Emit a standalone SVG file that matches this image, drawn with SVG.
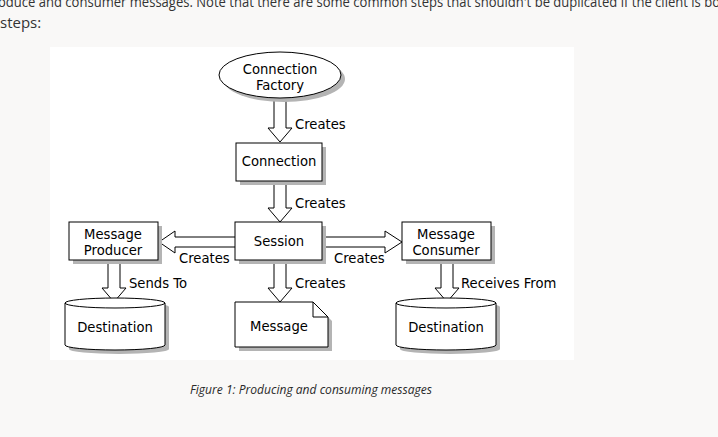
<svg xmlns="http://www.w3.org/2000/svg" width="718" height="437" viewBox="0 0 718 437">
<style>
.pg{font-family:"Open Sans","Noto Sans",sans-serif;fill:#333;font-size:15px}
.t{font-family:"DejaVu Sans","Liberation Sans",sans-serif;font-size:13.2px;fill:#000}
.m{text-anchor:middle}
.s{fill:#b4b4b4;stroke:none}
.n{fill:#fff;stroke:#000;stroke-width:1}
.a{fill:#fff;stroke:#000;stroke-width:1}
.cap{font-family:"Open Sans","Noto Sans",sans-serif;font-style:italic;font-size:12px;fill:#2a2a2a}
</style>
<rect x="0" y="0" width="718" height="437" fill="#f9f8f7"/>
<text class="pg" x="-2" y="7" textLength="722" lengthAdjust="spacingAndGlyphs">oduce and consumer messages. Note that there are some common steps that shouldn't be duplicated if the client is bo</text>
<text class="pg" x="0" y="28">steps:</text>
<rect x="50" y="47" width="524" height="313" fill="#fff"/>

<g id="connectors">
<polyline class="a" points="274,98 274,128 268,128 280,142 292,128 286,128 286,98"/>
<polyline class="a" points="274,182 274,208 268,208 280,222 292,208 286,208 286,182"/>
<polyline class="a" points="274,261 274,288 268,288 280,302 292,288 286,288 286,261"/>
<polyline class="a" points="108,262 108,288 102,288 114,302 126,288 120,288 120,262"/>
<polyline class="a" points="441,262 441,288 435,288 447,302 459,288 453,288 453,262"/>
<polyline class="a" points="235,237 175,237 175,231 159,242 175,253 175,247 235,247"/>
<polyline class="a" points="322,237 385,237 385,231 402,242 385,253 385,247 322,247"/>
<text class="t" x="295" y="129">Creates</text>
<text class="t" x="295" y="208">Creates</text>
<text class="t" x="295" y="288">Creates</text>
<text class="t" x="179" y="263">Creates</text>
<text class="t" x="334" y="263">Creates</text>
<text class="t" x="129" y="288">Sends To</text>
<text class="t" x="461" y="288">Receives From</text>
</g>

<g id="connection-factory">
<ellipse class="s" cx="284" cy="79" rx="61" ry="23"/>
<ellipse class="n" cx="280" cy="75" rx="61" ry="23"/>
<text class="t m" x="280" y="74">Connection</text>
<text class="t m" x="280" y="90">Factory</text>
</g>

<g id="connection">
<rect class="s" x="240" y="147" width="86" height="38"/>
<rect class="n" x="236" y="143" width="86" height="38"/>
<text class="t m" x="279" y="166">Connection</text>
</g>

<g id="session">
<rect class="s" x="239" y="226" width="87" height="38"/>
<rect class="n" x="235" y="222" width="87" height="38"/>
<text class="t m" x="279" y="246">Session</text>
</g>

<g id="message-producer">
<rect class="s" x="73" y="226" width="89" height="38"/>
<rect class="n" x="69" y="222" width="89" height="38"/>
<text class="t m" x="113" y="239">Message</text>
<text class="t m" x="113" y="255">Producer</text>
</g>

<g id="message-consumer">
<rect class="s" x="406" y="226" width="89" height="38"/>
<rect class="n" x="402" y="222" width="89" height="38"/>
<text class="t m" x="446" y="239">Message</text>
<text class="t m" x="446" y="255">Consumer</text>
</g>

<g id="destination-left">
<path class="s" d="M69,307 A50,5 0 0 1 169,307 L169,349 A50,5 0 0 1 69,349 Z"/>
<path class="n" d="M65,303 A50,5 0 0 1 165,303 L165,345 A50,5 0 0 1 65,345 Z"/>
<path fill="none" stroke="#000" d="M65,303 A50,5 0 0 0 165,303"/>
<text class="t m" x="115" y="332">Destination</text>
</g>

<g id="message">
<path class="s" d="M239,306 L317,306 L332,321 L332,351 L239,351 Z"/>
<path class="n" d="M235,302 L313,302 L328,317 L328,347 L235,347 Z"/>
<path fill="none" stroke="#000" d="M313,302 L313,317 L328,317"/>
<text class="t m" x="279" y="331">Message</text>
</g>

<g id="destination-right">
<path class="s" d="M400,307 A50,5 0 0 1 500,307 L500,349 A50,5 0 0 1 400,349 Z"/>
<path class="n" d="M396,303 A50,5 0 0 1 496,303 L496,345 A50,5 0 0 1 396,345 Z"/>
<path fill="none" stroke="#000" d="M396,303 A50,5 0 0 0 496,303"/>
<text class="t m" x="446" y="332">Destination</text>
</g>

<text class="cap" x="190" y="394" textLength="242" lengthAdjust="spacingAndGlyphs">Figure 1: Producing and consuming messages</text>
</svg>
